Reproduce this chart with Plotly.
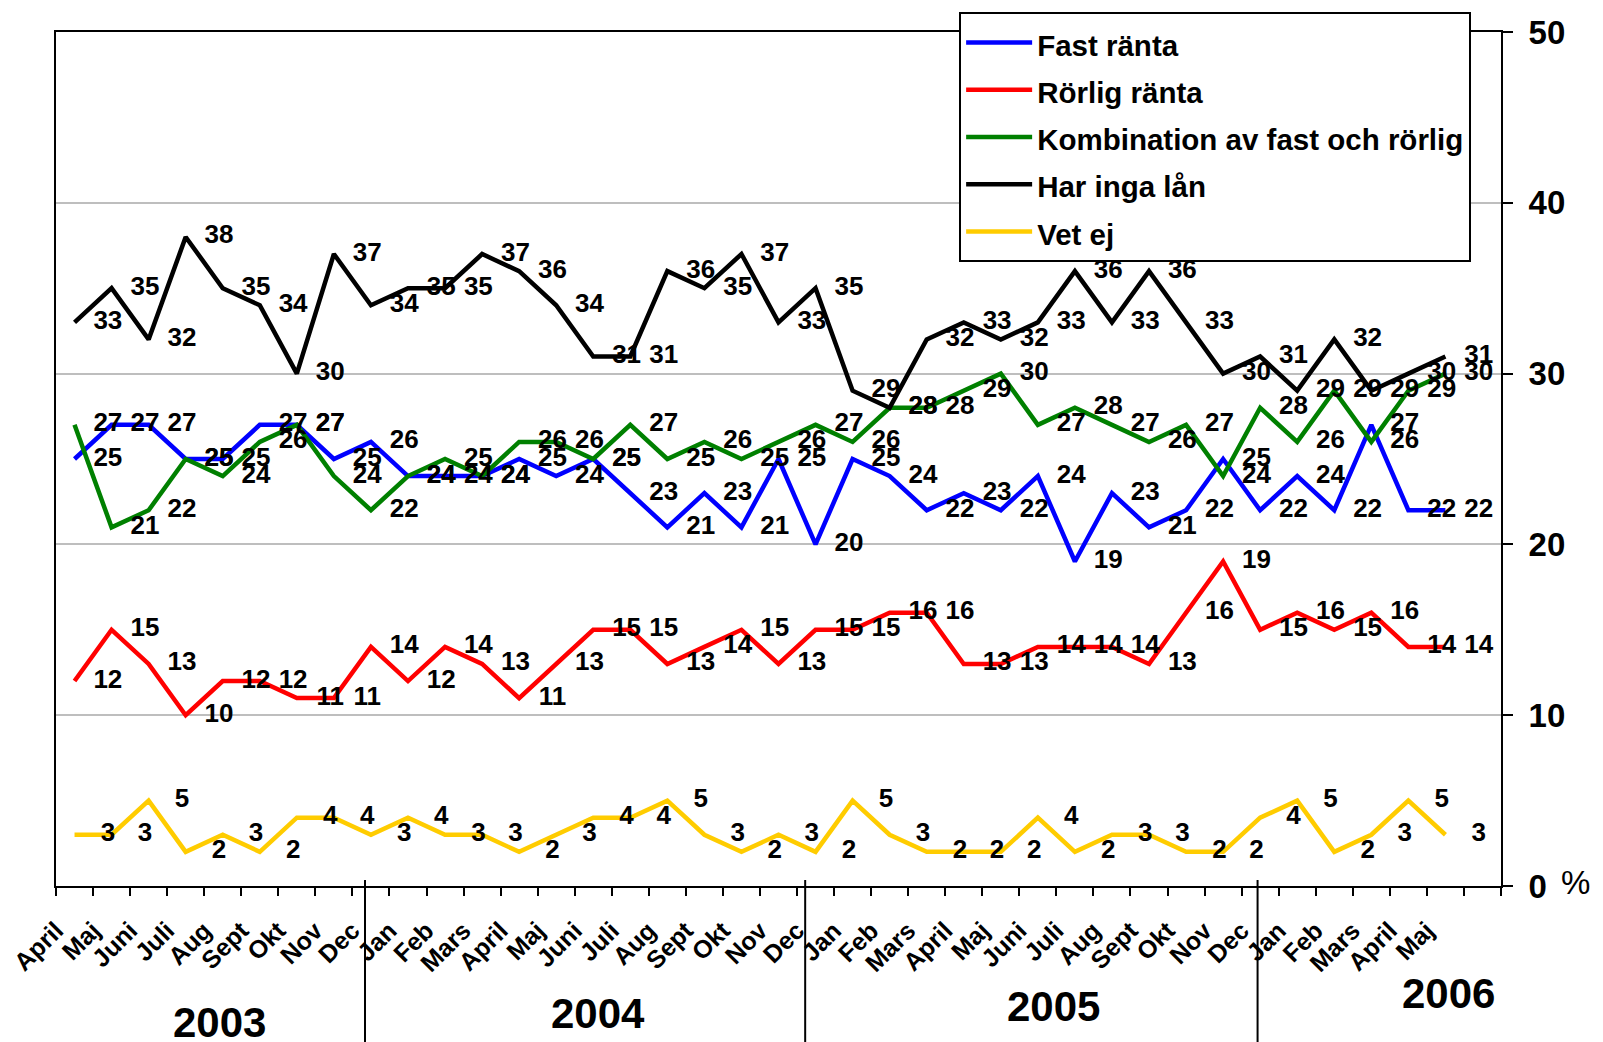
import plotly.graph_objects as go

# ---------------- data ----------------
months = ["April", "Maj", "Juni", "Juli", "Aug", "Sept", "Okt", "Nov", "Dec",
          "Jan", "Feb", "Mars", "April", "Maj", "Juni", "Juli", "Aug", "Sept", "Okt", "Nov", "Dec",
          "Jan", "Feb", "Mars", "April", "Maj", "Juni", "Juli", "Aug", "Sept", "Okt", "Nov", "Dec",
          "Jan", "Feb", "Mars", "April", "Maj"]
years = ["2003", "2004", "2005", "2006"]

fast_ranta = [25, 27, 27, 25, 25, 27, 27, 25, 26, 24, 24, 24, 25, 24, 25, 23, 21, 23, 21, 25,
              20, 25, 24, 22, 23, 22, 24, 19, 23, 21, 22, 25, 22, 24, 22, 27, 22, 22]
rorlig_ranta = [12, 15, 13, 10, 12, 12, 11, 11, 14, 12, 14, 13, 11, 13, 15, 15, 13, 14, 15, 13,
                15, 15, 16, 16, 13, 13, 14, 14, 14, 13, 16, 19, 15, 16, 15, 16, 14, 14]
kombination = [27, 21, 22, 25, 24, 26, 27, 24, 22, 24, 25, 24, 26, 26, 25, 27, 25, 26, 25, 26,
               27, 26, 28, 28, 29, 30, 27, 28, 27, 26, 27, 24, 28, 26, 29, 26, 29, 30]
har_inga_lan = [33, 35, 32, 38, 35, 34, 30, 37, 34, 35, 35, 37, 36, 34, 31, 31, 36, 35, 37, 33,
                35, 29, 28, 32, 33, 32, 33, 36, 33, 36, 33, 30, 31, 29, 32, 29, 30, 31]
vet_ej = [3, 3, 5, 2, 3, 2, 4, 4, 3, 4, 3, 3, 2, 3, 4, 4, 5, 3, 2, 3,
          2, 5, 3, 2, 2, 2, 4, 2, 3, 3, 2, 2, 4, 5, 2, 3, 5, 3]

series_names = ["Fast ränta", "Rörlig ränta", "Kombination av fast och rörlig", "Har inga lån", "Vet ej"]
series_values = [fast_ranta, rorlig_ranta, kombination, har_inga_lan, vet_ej]
series_colors = ["#0000FF", "#FF0000", "#008000", "#000000", "#FFCC00"]

y_ticks = [0, 10, 20, 30, 40, 50]

# ---------------- figure ----------------
FONT = "Liberation Sans, Arial, sans-serif"
n = len(months)
xs = list(range(n))
n_cat = n + 1  # one empty category at the end
label_offset = 0.9

fig = go.Figure()
for name, vals, col in zip(series_names, series_values, series_colors):
    fig.add_trace(go.Scatter(x=xs, y=vals, mode="lines",
                             name='<span style="font-size:29.5px">' + name + '</span>',
                             line=dict(color=col, width=4.5), hoverinfo="y"))
for name, vals in zip(series_names, series_values):
    fig.add_trace(go.Scatter(x=[i + label_offset for i in xs], y=vals, mode="text",
                             text=[str(v) for v in vals], textposition="middle center",
                             textfont=dict(family=FONT, size=26, color="black", weight="bold"),
                             showlegend=False, hoverinfo="skip", cliponaxis=False))

tickvals = [k - 0.5 for k in range(n_cat + 1)]
ticktext = months + [""] * (len(tickvals) - len(months))

fig.update_layout(
    width=1603, height=1042,
    margin=dict(l=56, r=102, t=30, b=156),
    paper_bgcolor="white", plot_bgcolor="white",
    font=dict(family=FONT, color="black"),
    showlegend=True,
    legend=dict(x=0.625, y=1.0234, xanchor="left", yanchor="top",
                bgcolor="white", bordercolor="black", borderwidth=2,
                font=dict(family=FONT, size=34, color="black", weight="bold"),
                itemwidth=66, tracegroupgap=0),
    xaxis=dict(range=[-0.5, n_cat - 0.5], tickmode="array", tickvals=tickvals, ticktext=ticktext,
               tickangle=-45, ticks="outside", ticklen=8, tickwidth=2, tickcolor="black",
               tickfont=dict(family=FONT, size=25, color="black", weight="bold"),
               ticklabelstandoff=10,
               showline=True, linecolor="black", linewidth=2, mirror=True,
               showgrid=False, zeroline=False, automargin=False, fixedrange=True),
    yaxis=dict(range=[0, 50], side="right", tickmode="array", tickvals=y_ticks,
               ticks="outside", ticklen=10, tickwidth=2, tickcolor="black",
               tickfont=dict(family=FONT, size=33, color="black", weight="bold"),
               ticklabelstandoff=9,
               showline=True, linecolor="black", linewidth=2, mirror=True,
               showgrid=True, gridcolor="#BEBEBE", gridwidth=1.5,
               zeroline=False, automargin=False, fixedrange=True),
)

# year separators and labels (hand-placed in the original)
for xpos in [7.84, 19.72, 31.93]:
    fig.add_shape(type="line", xref="x", yref="paper", x0=xpos, x1=xpos, y0=0.007, y1=-0.2,
                  line=dict(color="black", width=2))
year_pos = [(3.9, -136), (14.13, -127), (26.41, -120), (37.07, -107)]
for yr, (xp, ysh) in zip(years, year_pos):
    fig.add_annotation(text=yr, x=xp, xref="x", y=0, yref="paper", yshift=ysh,
                       showarrow=False, xanchor="center", yanchor="middle",
                       font=dict(family=FONT, size=42, color="black", weight="bold"))

fig.add_annotation(text="%", x=1.040, xref="paper", y=0, yref="y", yshift=4,
                   showarrow=False, xanchor="left", yanchor="middle",
                   font=dict(family=FONT, size=33, color="black"))

# remove the default 8px page margin so the figure fills the window exactly
fig.write_html("out.html", config={"displayModeBar": False},
               post_script="document.body.style.margin='0';")
